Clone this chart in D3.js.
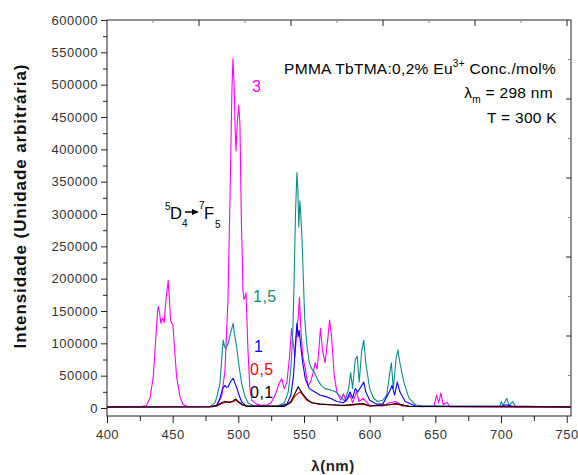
<!DOCTYPE html>
<html>
<head>
<meta charset="utf-8">
<script src="https://cdn.jsdelivr.net/npm/d3@7/dist/d3.min.js"></script>
<style>
	body { margin: 0; background: #fff; }
	svg text { font-family: "Liberation Sans", Arial, sans-serif; }
	.tick-lbl { font-size: 13px; fill: #333; letter-spacing: 0.5px; }
</style>
</head>
<body>
<div id="chart"></div>
<script>

// [wavelength nm, intensity]
const s3 = [[400,1500],[425,1800],[430,4000],[432.7,15000],[435.2,48000],[437.2,110000],[438.5,150000],[439,157000],[440,148000],[441,131000],[442.4,139000],[443.5,132000],[445,170000],[446.6,197000],[447.3,175000],[448.4,135000],[450.2,128000],[451.5,90000],[453,48000],[455.5,18000],[458,5000],[462,2000],[480,2000],[484,4000],[487.5,20000],[489.8,58000],[492.1,166000],[493.6,320000],[495.1,490000],[495.9,540000],[496.8,500000],[497.6,430000],[498.2,398000],[499.3,445000],[500.3,468000],[501.2,440000],[502.2,300000],[502.9,240000],[503.5,182000],[504.3,168000],[505.2,172000],[505.8,178000],[506.5,140000],[507.3,90000],[508.8,30000],[510.3,12000],[513.9,6000],[518,4000],[522,5000],[525,8000],[528,20000],[531,38000],[533,45000],[535,30000],[537,40000],[539,80000],[540.5,123000],[541.8,100000],[543,79000],[544.5,120000],[545.6,140000],[546.5,171000],[547.5,125000],[549,80000],[551,60000],[553,35000],[555,40000],[557,55000],[558.5,70000],[560,60000],[561.5,95000],[562.5,123000],[564,90000],[566,70000],[568,105000],[569.5,136000],[571,110000],[573,50000],[575,25000],[578,12000],[580,22000],[582,10000],[585,20000],[587,8000],[590,25000],[592,10000],[595,15000],[600,4000],[610,3000],[615,8000],[620,10000],[625,3000],[640,2000],[649,3000],[650.9,20000],[652.5,8000],[654.2,23000],[656,5000],[658.8,9000],[661,2000],[753,1500]];

const s15 = [[400,1500],[478,2000],[482.2,8000],[484,20000],[486,38000],[487.5,80000],[488.5,105000],[489.5,95000],[490.5,92000],[492.3,100000],[494,115000],[495.3,125000],[496.1,131000],[497,115000],[498.7,95000],[500.5,65000],[502.5,38000],[505,18000],[507.5,7700],[512,3000],[530,3000],[535,8000],[538,25000],[540,60000],[541.5,120000],[542.5,200000],[543.5,300000],[544.6,364000],[545.3,340000],[546,280000],[546.8,320000],[547.5,300000],[548.5,260000],[549.5,200000],[550.5,140000],[552,100000],[554,70000],[556,60000],[558,55000],[560,45000],[563,35000],[566,30000],[570,28000],[574,25000],[578,18000],[581,10000],[584,30000],[585.5,55000],[587,30000],[589,75000],[590.5,80000],[592,40000],[594,90000],[595.5,105000],[597,70000],[600,30000],[603,15000],[606,10000],[610,12000],[613,20000],[615,50000],[616.5,70000],[618,30000],[620,75000],[621.5,90000],[623,70000],[626,40000],[630,15000],[635,5000],[640,3000],[650,3000],[660,2500],[699,2500],[700.3,9700],[701.5,4000],[704.4,15000],[706,4000],[709,10000],[711,2000],[753,1500]];

const s1 = [[400,1500],[478,2000],[483.5,4000],[486,15000],[488,30000],[489.8,35000],[491,32000],[492.3,33000],[494,40600],[496.1,46000],[497.5,38000],[499,30000],[500.5,20000],[502.5,9700],[506,3000],[530,2500],[537,6000],[540,20000],[542,50000],[543.5,100000],[544.6,131000],[545.5,110000],[546.3,120000],[547.3,100000],[549,70000],[551,45000],[554,30000],[558,25000],[562,20000],[566,18000],[570,15000],[575,10000],[580,8000],[583,15000],[585,25000],[587,15000],[589,30000],[591,25000],[594,35000],[595.5,40000],[597,25000],[600,12000],[605,6000],[610,6000],[615,25000],[617,35000],[619,20000],[621,40000],[623,25000],[627,10000],[635,3000],[700,2500],[704,5000],[708,3000],[753,1500]];

const s05 = [[400,1500],[478,2000],[484,3000],[487,7000],[489.8,8200],[492,10000],[494,9000],[496.1,9700],[498,12000],[500,9000],[503,5000],[507,2500],[535,2500],[540,8000],[543,18000],[545,22000],[547,25000],[549,20000],[552,12000],[556,8000],[562,6000],[570,5000],[580,3500],[590,5000],[595,6000],[600,3000],[615,5000],[620,6000],[630,2500],[753,1500]];

const s01 = [[400,1500],[480,2000],[485,5000],[488,9000],[490,10000],[493,8500],[496,11000],[498,14000],[500,10000],[503,5000],[507,2500],[535,2500],[540,10000],[543,22000],[545.6,33000],[547,28000],[549,22000],[552,14000],[556,8000],[562,6000],[570,5000],[580,4000],[590,6000],[595,7000],[600,3000],[615,5000],[620,7000],[630,2500],[753,1500]];

const seriesNames = ['3', '1,5', '1', '0,5', '0,1'];
const seriesData = [s3, s15, s1, s05, s01];
const seriesColors = ['#ff00ff', '#108a8a', '#0000ff', '#ff0000', '#000000'];

const xTicks = [400, 450, 500, 550, 600, 650, 700, 750];
const yTicks = [0, 50000, 100000, 150000, 200000, 250000, 300000, 350000, 400000, 450000, 500000, 550000, 600000];

//-----------------------------------------------------
var W = 578, H = 475;
var pL = 107, pR = 571, pT = 20, pB = 416;

var svg = d3.select('#chart').append('svg')
	.attr('width', W)
	.attr('height', H);

var x = d3.scaleLinear().domain([400, 750]).range([pL, 566.7]);
var y = d3.scaleLinear().domain([0, 600000]).range([408, pT]);

svg.append('defs').append('clipPath').attr('id', 'clip')
	.append('rect')
	.attr('x', pL).attr('y', pT)
	.attr('width', pR - pL).attr('height', pB - pT);

// spectra
var line = d3.line()
	.x(function(d) { return x(d[0]); })
	.y(function(d) { return y(d[1]); });

svg.append('g')
	.attr('clip-path', 'url(#clip)')
	.selectAll('path')
	.data(seriesData)
	.enter()
	.append('path')
	.attr('d', line)
	.attr('fill', 'none')
	.attr('stroke', function(d, i) { return seriesColors[i]; })
	.attr('stroke-width', 1.1)
	.attr('stroke-linejoin', 'round');

// frame
svg.append('rect')
	.attr('x', pL).attr('y', pT)
	.attr('width', pR - pL).attr('height', pB - pT)
	.attr('fill', 'none')
	.attr('stroke', '#222')
	.attr('stroke-width', 1);

// bottom axis
var xAxis = d3.axisBottom(x)
	.tickValues(d3.range(400, 751, 25))
	.tickSize(7)
	.tickFormat(function(d) { return xTicks.indexOf(d) >= 0 ? d : ''; });
var gx = svg.append('g')
	.attr('transform', 'translate(0,' + pB + ')')
	.call(xAxis);
gx.select('.domain').remove();
gx.selectAll('.tick line').attr('stroke', '#222')
	.attr('y2', function(d) { return d % 50 === 0 ? 7 : 5; });
gx.selectAll('.tick text').attr('class', 'tick-lbl').attr('y', 14);

// left axis
var yAxis = d3.axisLeft(y)
	.tickValues(d3.range(0, 600001, 25000))
	.tickSize(6)
	.tickFormat(function(d) { return yTicks.indexOf(d) >= 0 ? d : ''; });
var gy = svg.append('g')
	.attr('transform', 'translate(' + pL + ',0)')
	.call(yAxis);
gy.select('.domain').remove();
gy.selectAll('.tick line').attr('stroke', '#222')
	.attr('x2', function(d) { return d % 50000 === 0 ? -6 : -4; });
gy.selectAll('.tick text').attr('class', 'tick-lbl').attr('x', -9);

// top and right: unlabelled opposite axes (own 10-step scale)
var tx = d3.scaleLinear().domain([0, 10]).range([pL, 567]);
var ry = d3.scaleLinear().domain([0, 10]).range([415, pT]);
svg.append('g').selectAll('line')
	.data(d3.range(1, 11))
	.enter().append('line')
	.attr('x1', function(d) { return tx(d); })
	.attr('x2', function(d) { return tx(d); })
	.attr('y1', pT)
	.attr('y2', function(d) { return pT + (d % 2 === 0 ? 6 : 3); })
	.attr('stroke', function(d) { return d % 2 === 0 ? '#222' : '#888'; });
svg.append('g').selectAll('line')
	.data(d3.range(1, 10))
	.enter().append('line')
	.attr('y1', function(d) { return ry(d); })
	.attr('y2', function(d) { return ry(d); })
	.attr('x1', pR)
	.attr('x2', function(d) { return pR - (d % 2 === 0 ? 5 : 3); })
	.attr('stroke', function(d) { return d % 2 === 0 ? '#222' : '#888'; });

// axis titles
svg.append('text')
	.attr('transform', 'translate(26,206) rotate(-90)')
	.attr('text-anchor', 'middle')
	.style('font-size', '17px')
	.style('font-weight', 'bold')
	.style('letter-spacing', '0.9px')
	.attr('fill', '#111')
	.text('Intensidade (Unidade arbitrária)');

svg.append('text')
	.attr('x', 333).attr('y', 471)
	.attr('text-anchor', 'middle')
	.style('font-size', '15px')
	.style('font-weight', 'bold')
	.style('letter-spacing', '0.5px')
	.attr('fill', '#222')
	.text('λ(nm)');

// info block
var info = svg.append('g').attr('fill', '#000').style('font-size', '15.5px').style('letter-spacing', '0.3px');
var t1 = info.append('text').attr('x', 556).attr('y', 74).attr('text-anchor', 'end');
t1.append('tspan').text('PMMA TbTMA:0,2% Eu');
t1.append('tspan').attr('dy', -7).style('font-size', '10px').text('3+');
t1.append('tspan').attr('dy', 7).text(' Conc./mol%');

var t2 = info.append('text').attr('x', 553).attr('y', 98).attr('text-anchor', 'end');
t2.append('tspan').text('λ');
t2.append('tspan').attr('dy', 5).style('font-size', '10px').text('m');
t2.append('tspan').attr('dy', -5).text(' = 298 nm');

info.append('text').attr('x', 557).attr('y', 123).attr('text-anchor', 'end').text('T = 300 K');

// transition label
var tr = svg.append('g').style('font-size', '16.5px').attr('fill', '#000');
tr.append('text').attr('x', 165).attr('y', 210).style('font-size', '10px').text('5');
tr.append('text').attr('x', 170).attr('y', 219).text('D');
tr.append('text').attr('x', 182).attr('y', 227).style('font-size', '10px').text('4');
tr.append('text').attr('x', 199).attr('y', 209).style('font-size', '10px').text('7');
tr.append('text').attr('x', 204).attr('y', 219).text('F');
tr.append('text').attr('x', 215).attr('y', 228).style('font-size', '10px').text('5');
tr.append('line')
	.attr('x1', 185).attr('x2', 194).attr('y1', 212).attr('y2', 212)
	.attr('stroke', '#000').attr('stroke-width', 1.5);
tr.append('path')
	.attr('d', 'M192,209 L199,212 L192,215 Z')
	.attr('fill', '#000');

// series labels
const labelPos = [[252, 92], [253, 302], [254, 352], [250, 375], [250, 398]];
svg.append('g').selectAll('text')
	.data(seriesNames)
	.enter().append('text')
	.attr('x', function(d, i) { return labelPos[i][0]; })
	.attr('y', function(d, i) { return labelPos[i][1]; })
	.attr('fill', function(d, i) { return seriesColors[i]; })
	.style('font-size', '16px')
	.style('letter-spacing', '0.5px')
	.text(function(d) { return d; });

</script>
</body>
</html>
